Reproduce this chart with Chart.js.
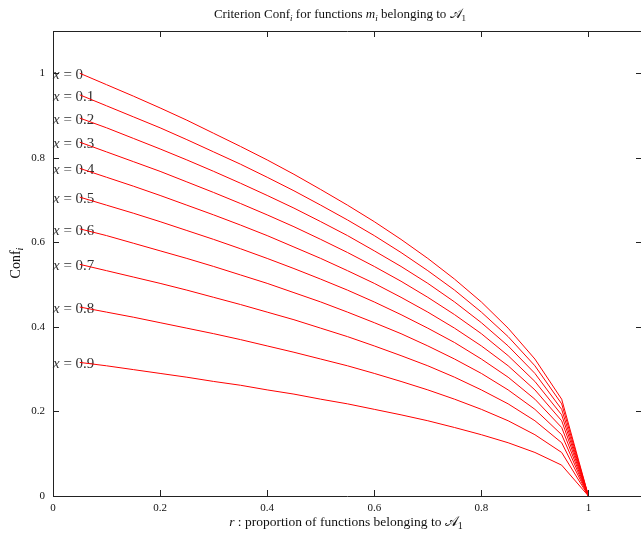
<!DOCTYPE html>
<html>
<head>
<meta charset="utf-8">
<script src="https://cdn.jsdelivr.net/npm/chart.js@4"></script>
<style>
  html, body { margin: 0; padding: 0; background: #fff; overflow: hidden; }
  canvas { display: block; }
</style>
</head>
<body>
<canvas id="conf" width="642" height="535"></canvas>
<script>
// r : proportion of functions belonging to A1
const rValues = [0.05, 0.1, 0.15, 0.2, 0.25, 0.3, 0.35, 0.4, 0.45, 0.5, 0.55, 0.6, 0.65, 0.7, 0.75, 0.8, 0.85, 0.9, 0.95, 1];

// Conf_i, one curve per x
const confX00 = [1.000, 0.973, 0.946, 0.918, 0.889, 0.858, 0.827, 0.795, 0.761, 0.725, 0.688, 0.649, 0.607, 0.562, 0.513, 0.459, 0.397, 0.324, 0.229, 0];
const confX01 = [0.949, 0.923, 0.897, 0.871, 0.843, 0.814, 0.785, 0.754, 0.722, 0.688, 0.653, 0.616, 0.576, 0.533, 0.487, 0.435, 0.377, 0.308, 0.218, 0];
const confX02 = [0.894, 0.871, 0.846, 0.821, 0.795, 0.768, 0.740, 0.711, 0.681, 0.649, 0.616, 0.580, 0.543, 0.503, 0.459, 0.410, 0.355, 0.290, 0.205, 0];
const confX03 = [0.837, 0.814, 0.791, 0.768, 0.743, 0.718, 0.692, 0.665, 0.637, 0.607, 0.576, 0.543, 0.508, 0.470, 0.429, 0.384, 0.332, 0.271, 0.192, 0];
const confX04 = [0.775, 0.754, 0.733, 0.711, 0.688, 0.665, 0.641, 0.616, 0.589, 0.562, 0.533, 0.503, 0.470, 0.435, 0.397, 0.355, 0.308, 0.251, 0.178, 0];
const confX05 = [0.707, 0.688, 0.669, 0.649, 0.628, 0.607, 0.585, 0.562, 0.538, 0.513, 0.487, 0.459, 0.429, 0.397, 0.363, 0.324, 0.281, 0.229, 0.162, 0];
const confX06 = [0.632, 0.616, 0.598, 0.580, 0.562, 0.543, 0.523, 0.503, 0.481, 0.459, 0.435, 0.410, 0.384, 0.355, 0.324, 0.290, 0.251, 0.205, 0.145, 0];
const confX07 = [0.548, 0.533, 0.518, 0.503, 0.487, 0.470, 0.453, 0.435, 0.417, 0.397, 0.377, 0.355, 0.332, 0.308, 0.281, 0.251, 0.218, 0.178, 0.126, 0];
const confX08 = [0.447, 0.435, 0.423, 0.410, 0.397, 0.384, 0.370, 0.355, 0.340, 0.324, 0.308, 0.290, 0.271, 0.251, 0.229, 0.205, 0.178, 0.145, 0.103, 0];
const confX09 = [0.316, 0.308, 0.299, 0.290, 0.281, 0.271, 0.262, 0.251, 0.241, 0.229, 0.218, 0.205, 0.192, 0.178, 0.162, 0.145, 0.126, 0.103, 0.073, 0];

const curveLabels = ['0', '0.1', '0.2', '0.3', '0.4', '0.5', '0.6', '0.7', '0.8', '0.9'];
const xTicks = [0, 0.2, 0.4, 0.6, 0.8, 1];
const yTicks = [0, 0.2, 0.4, 0.6, 0.8, 1];

const allSeries = [confX00, confX01, confX02, confX03, confX04, confX05, confX06, confX07, confX08, confX09];
const SERIF = '"Liberation Serif", "DejaVu Serif", serif';

// draw a line of text made of parts: {t, i (italic), sub (subscript)}
function drawRich(ctx, parts, x, y, size, align) {
  const fontOf = (p) => `${p.i ? 'italic ' : ''}${p.sub ? Math.round(size * 0.72) : size}px ${SERIF}`;
  let w = 0;
  parts.forEach((p) => { ctx.font = fontOf(p); w += ctx.measureText(p.t).width; });
  let cx = align === 'center' ? x - w / 2 : x;
  ctx.textAlign = 'left';
  parts.forEach((p) => {
    ctx.font = fontOf(p);
    ctx.fillText(p.t, cx, p.sub ? y + size * 0.22 : y);
    cx += ctx.measureText(p.t).width;
  });
}

const decorPlugin = {
  id: 'decor',
  beforeDatasetsDraw(chart) {
    const { ctx, scales: { x, y } } = chart;
    ctx.save();
    ctx.fillStyle = '#333';
    ctx.textBaseline = 'middle';
    allSeries.forEach((series, k) => {
      const px = x.getPixelForValue(0);
      const py = y.getPixelForValue(series[0]) + 2;
      drawRich(ctx, [{ t: 'x', i: true }, { t: ' = ' + curveLabels[k] }], px, py, 15, 'left');
    });
    ctx.restore();
  },
  afterDraw(chart) {
    const { ctx, chartArea: a, scales: { x, y } } = chart;
    ctx.save();
    // frame
    ctx.strokeStyle = '#222';
    ctx.lineWidth = 1;
    ctx.beginPath();
    ctx.moveTo(a.left + 0.5, a.bottom + 0.5);
    ctx.lineTo(a.left + 0.5, a.top + 0.5);
    ctx.lineTo(a.right - 0.5, a.top + 0.5);
    ctx.lineTo(a.right - 0.5, a.bottom + 0.5);
    ctx.closePath();
    ctx.stroke();
    // inward ticks
    const len = 6;
    ctx.beginPath();
    xTicks.forEach((v) => {
      const px = Math.round(x.getPixelForValue(v)) + 0.5;
      ctx.moveTo(px, a.bottom); ctx.lineTo(px, a.bottom - len);
      ctx.moveTo(px, a.top); ctx.lineTo(px, a.top + len);
    });
    yTicks.forEach((v) => {
      const py = Math.round(y.getPixelForValue(v)) + 0.5;
      ctx.moveTo(a.left, py); ctx.lineTo(a.left + len, py);
      ctx.moveTo(a.right, py); ctx.lineTo(a.right - len, py);
    });
    ctx.stroke();

    // titles
    ctx.fillStyle = '#111';
    ctx.textBaseline = 'alphabetic';
    drawRich(ctx, [
      { t: 'Criterion Conf' }, { t: 'i', i: true, sub: true },
      { t: ' for functions ' }, { t: 'm', i: true }, { t: 'i', i: true, sub: true },
      { t: ' belonging to ' }, { t: '𝒜' }, { t: '1', sub: true }
    ], 340, 18, 13, 'center');
    drawRich(ctx, [
      { t: 'r', i: true }, { t: ' : proportion of functions belonging to ' },
      { t: '𝒜' }, { t: '1', sub: true }
    ], 346, 526, 13.5, 'center');
    ctx.translate(20, 263);
    ctx.rotate(-Math.PI / 2);
    drawRich(ctx, [{ t: 'Conf' }, { t: 'i', i: true, sub: true }], 0, 0, 14, 'center');
    ctx.restore();
  }
};

const tickFont = { family: SERIF, size: 11 };

new Chart(document.getElementById('conf'), {
  type: 'line',
  data: {
    datasets: allSeries.map((series, k) => ({
      label: 'x = ' + curveLabels[k],
      data: rValues.map((r, i) => ({ x: r, y: series[i] })),
      borderColor: '#ff0000',
      borderWidth: 1,
      pointRadius: 0,
      tension: 0,
      fill: false
    }))
  },
  options: {
    responsive: false,
    animation: false,
    layout: { padding: { top: 31, left: 0, right: 0, bottom: 0 } },
    plugins: { legend: { display: false }, tooltip: { enabled: false } },
    scales: {
      x: {
        type: 'linear',
        min: 0,
        max: 1.1,
        afterBuildTicks: (s) => { s.ticks = xTicks.map((v) => ({ value: v })); },
        afterFit: (s) => { s.height = 39; },
        grid: { display: false, drawTicks: false },
        border: { display: false },
        ticks: { padding: 6, color: '#111', font: tickFont, maxRotation: 0, autoSkip: false, callback: (v) => String(v) }
      },
      y: {
        min: 0,
        max: 1.1,
        afterBuildTicks: (s) => { s.ticks = yTicks.map((v) => ({ value: v })); },
        afterFit: (s) => { s.width = 53; },
        grid: { display: false, drawTicks: false },
        border: { display: false },
        ticks: { padding: 8, color: '#111', font: tickFont, autoSkip: false, callback: (v) => String(v) }
      }
    }
  },
  plugins: [decorPlugin]
});
</script>
</body>
</html>
